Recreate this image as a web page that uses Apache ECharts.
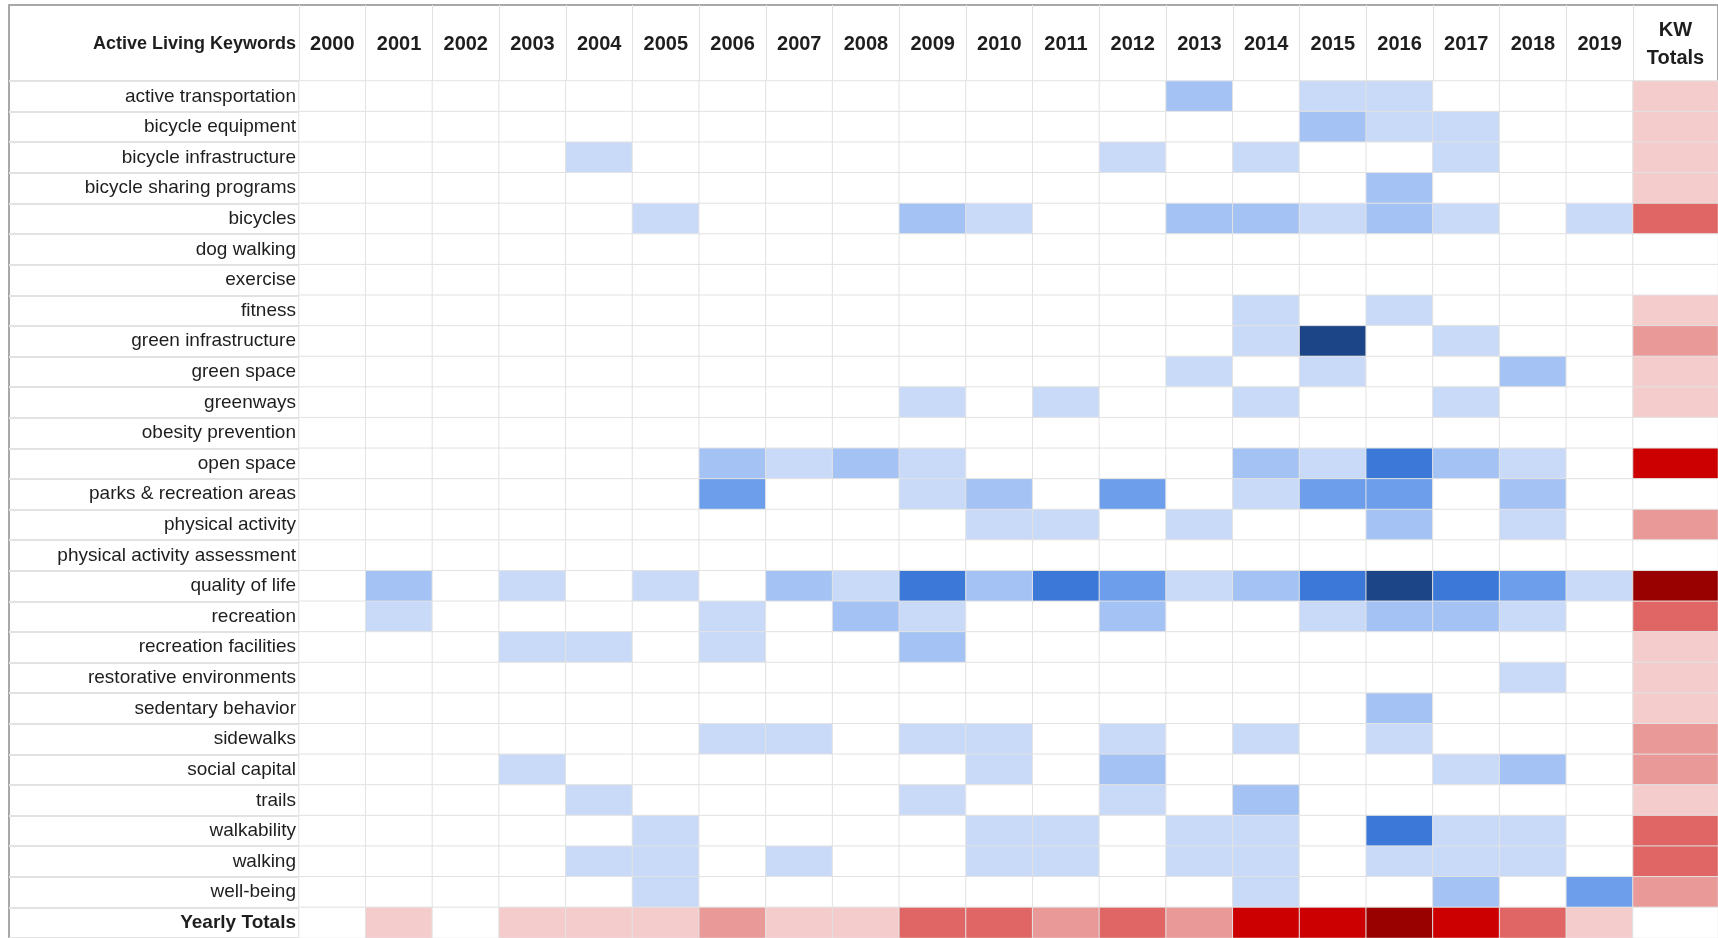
<!DOCTYPE html>
<html>
<head>
<meta charset="utf-8">
<script src="https://cdn.jsdelivr.net/npm/echarts@6/dist/echarts.min.js"></script>
<style>
  html, body { margin: 0; padding: 0; background: #fff; }
  #chart { width: 1718px; height: 938px; }
</style>
</head>
<body>
<div id="chart"></div>
<script>
// colour level (0 = empty, 5 = darkest)
const years = ['2000', '2001', '2002', '2003', '2004', '2005', '2006', '2007', '2008', '2009',
  '2010', '2011', '2012', '2013', '2014', '2015', '2016', '2017', '2018', '2019']
const keywords = ['active transportation', 'bicycle equipment', 'bicycle infrastructure',
  'bicycle sharing programs', 'bicycles', 'dog walking', 'exercise', 'fitness',
  'green infrastructure', 'green space', 'greenways', 'obesity prevention', 'open space',
  'parks & recreation areas', 'physical activity', 'physical activity assessment',
  'quality of life', 'recreation', 'recreation facilities', 'restorative environments',
  'sedentary behavior', 'sidewalks', 'social capital', 'trails', 'walkability', 'walking',
  'well-being']
const totalsLabel = 'Yearly Totals'
const kwHeader = 'KW\nTotals'

const levels = [
  [0,0,0,0,0,0,0,0,0,0,0,0,0,2,0,1,1,0,0,0], // active transportation
  [0,0,0,0,0,0,0,0,0,0,0,0,0,0,0,2,1,1,0,0], // bicycle equipment
  [0,0,0,0,1,0,0,0,0,0,0,0,1,0,1,0,0,1,0,0], // bicycle infrastructure
  [0,0,0,0,0,0,0,0,0,0,0,0,0,0,0,0,2,0,0,0], // bicycle sharing programs
  [0,0,0,0,0,1,0,0,0,2,1,0,0,2,2,1,2,1,0,1], // bicycles
  [0,0,0,0,0,0,0,0,0,0,0,0,0,0,0,0,0,0,0,0], // dog walking
  [0,0,0,0,0,0,0,0,0,0,0,0,0,0,0,0,0,0,0,0], // exercise
  [0,0,0,0,0,0,0,0,0,0,0,0,0,0,1,0,1,0,0,0], // fitness
  [0,0,0,0,0,0,0,0,0,0,0,0,0,0,1,5,0,1,0,0], // green infrastructure
  [0,0,0,0,0,0,0,0,0,0,0,0,0,1,0,1,0,0,2,0], // green space
  [0,0,0,0,0,0,0,0,0,1,0,1,0,0,1,0,0,1,0,0], // greenways
  [0,0,0,0,0,0,0,0,0,0,0,0,0,0,0,0,0,0,0,0], // obesity prevention
  [0,0,0,0,0,0,2,1,2,1,0,0,0,0,2,1,4,2,1,0], // open space
  [0,0,0,0,0,0,3,0,0,1,2,0,3,0,1,3,3,0,2,0], // parks & recreation areas
  [0,0,0,0,0,0,0,0,0,0,1,1,0,1,0,0,2,0,1,0], // physical activity
  [0,0,0,0,0,0,0,0,0,0,0,0,0,0,0,0,0,0,0,0], // physical activity assessment
  [0,2,0,1,0,1,0,2,1,4,2,4,3,1,2,4,5,4,3,1], // quality of life
  [0,1,0,0,0,0,1,0,2,1,0,0,2,0,0,1,2,2,1,0], // recreation
  [0,0,0,1,1,0,1,0,0,2,0,0,0,0,0,0,0,0,0,0], // recreation facilities
  [0,0,0,0,0,0,0,0,0,0,0,0,0,0,0,0,0,0,1,0], // restorative environments
  [0,0,0,0,0,0,0,0,0,0,0,0,0,0,0,0,2,0,0,0], // sedentary behavior
  [0,0,0,0,0,0,1,1,0,1,1,0,1,0,1,0,1,0,0,0], // sidewalks
  [0,0,0,1,0,0,0,0,0,0,1,0,2,0,0,0,0,1,2,0], // social capital
  [0,0,0,0,1,0,0,0,0,1,0,0,1,0,2,0,0,0,0,0], // trails
  [0,0,0,0,0,1,0,0,0,0,1,1,0,1,1,0,4,1,1,0], // walkability
  [0,0,0,0,1,1,0,1,0,0,1,1,0,1,1,0,1,1,1,0], // walking
  [0,0,0,0,0,1,0,0,0,0,0,0,0,0,1,0,0,2,0,3]  // well-being
]
const yearlyTotals = [0,1,0,1,1,1,2,1,1,3,3,2,3,2,4,4,5,4,3,1]
const kwTotals = [1,1,1,1,3,0,0,1,2,1,1,0,4,0,2,0,5,3,1,1,1,2,2,1,3,3,2,0] // last = Yearly Totals row

const blues = ['#ffffff', '#c9daf8', '#a4c2f4', '#6d9eeb', '#3c78d8', '#1c4587']
const reds = ['#ffffff', '#f4cccc', '#ea9999', '#e06666', '#cc0000', '#990000']

const rows = keywords.concat([totalsLabel])
const font = '"Liberation Sans", Arial, sans-serif'
const ink = '#1e1e1e'
const lineColor = '#e2e2e2'

const cellData = []
levels.forEach((row, r) => row.forEach((v, c) => cellData.push([c, r, v])))
const yearlyData = yearlyTotals.map((v, c) => [c, rows.length - 1, v])
const kwData = kwTotals.map((v, r) => [0, r, v])

const colW = 66.7
const gridTop = 81
const gridH = 860
const labelRight = 299
const yearsW = colW * years.length

const hidden = { show: false }
const cellStyle = { borderColor: lineColor, borderWidth: 1 }

const chart = echarts.init(document.getElementById('chart'))
chart.setOption({
  backgroundColor: '#fff',
  animation: false,
  textStyle: { fontFamily: font, color: ink },
  grid: [
    { left: labelRight, top: gridTop, width: yearsW, height: gridH }, // year cells
    { left: labelRight + yearsW, top: gridTop, width: 86, height: gridH }, // KW totals
    { left: 9, top: gridTop, width: labelRight - 9, height: gridH }, // row lines in label column
    { left: labelRight, top: 5, width: yearsW, height: gridTop - 5 }, // column lines in header
    { left: 9, top: 5, right: -40, bottom: -40, show: true, borderColor: '#a8a8a8', borderWidth: 2 }
  ],
  xAxis: [
    {
      gridIndex: 0, type: 'category', data: years, position: 'top',
      axisLine: hidden, axisTick: hidden, splitLine: hidden,
      axisLabel: { fontSize: 20, fontWeight: 'bold', color: ink, margin: 27, fontFamily: font }
    },
    {
      gridIndex: 1, type: 'category', data: [kwHeader], position: 'top',
      axisLine: hidden, axisTick: hidden, splitLine: hidden,
      axisLabel: { fontSize: 20, fontWeight: 'bold', color: ink, margin: 9, lineHeight: 28, fontFamily: font }
    },
    { gridIndex: 2, type: 'value', show: false },
    {
      gridIndex: 3, type: 'category', data: years,
      axisLine: hidden, axisTick: hidden, axisLabel: hidden,
      splitLine: { show: true, lineStyle: { color: lineColor, width: 1 } }
    },
    { gridIndex: 4, type: 'value', show: false }
  ],
  yAxis: [
    {
      gridIndex: 0, type: 'category', data: rows, inverse: true,
      axisLine: hidden, axisTick: hidden, splitLine: hidden,
      name: 'Active Living Keywords', nameLocation: 'start', nameGap: 37,
      nameTextStyle: {
        fontSize: 18, fontWeight: 'bold', color: ink, fontFamily: font,
        align: 'right', verticalAlign: 'middle', padding: [0, 3, 0, 0]
      },
      axisLabel: {
        fontSize: 19, color: ink, margin: 3, fontFamily: font,
        formatter: v => v === totalsLabel ? '{b|' + v + '}' : v,
        rich: { b: { fontSize: 19, fontWeight: 'bold', color: ink, fontFamily: font } }
      }
    },
    { gridIndex: 1, type: 'category', data: rows, inverse: true, show: false },
    {
      gridIndex: 2, type: 'category', data: rows, inverse: true,
      axisLine: hidden, axisTick: hidden, axisLabel: hidden,
      splitLine: { show: true, lineStyle: { color: lineColor, width: 2 } }
    },
    { gridIndex: 3, type: 'value', show: false },
    { gridIndex: 4, type: 'value', show: false }
  ],
  visualMap: [
    {
      show: false, type: 'piecewise', seriesIndex: 0, dimension: 2,
      pieces: blues.map((c, i) => ({ value: i, color: c }))
    },
    {
      show: false, type: 'piecewise', seriesIndex: [1, 2], dimension: 2,
      pieces: reds.map((c, i) => ({ value: i, color: c }))
    }
  ],
  series: [
    { type: 'heatmap', xAxisIndex: 0, yAxisIndex: 0, data: cellData, itemStyle: cellStyle, emphasis: { disabled: true } },
    { type: 'heatmap', xAxisIndex: 0, yAxisIndex: 0, data: yearlyData, itemStyle: cellStyle, emphasis: { disabled: true } },
    { type: 'heatmap', xAxisIndex: 1, yAxisIndex: 1, data: kwData, itemStyle: cellStyle, emphasis: { disabled: true } }
  ]
})
</script>
</body>
</html>
